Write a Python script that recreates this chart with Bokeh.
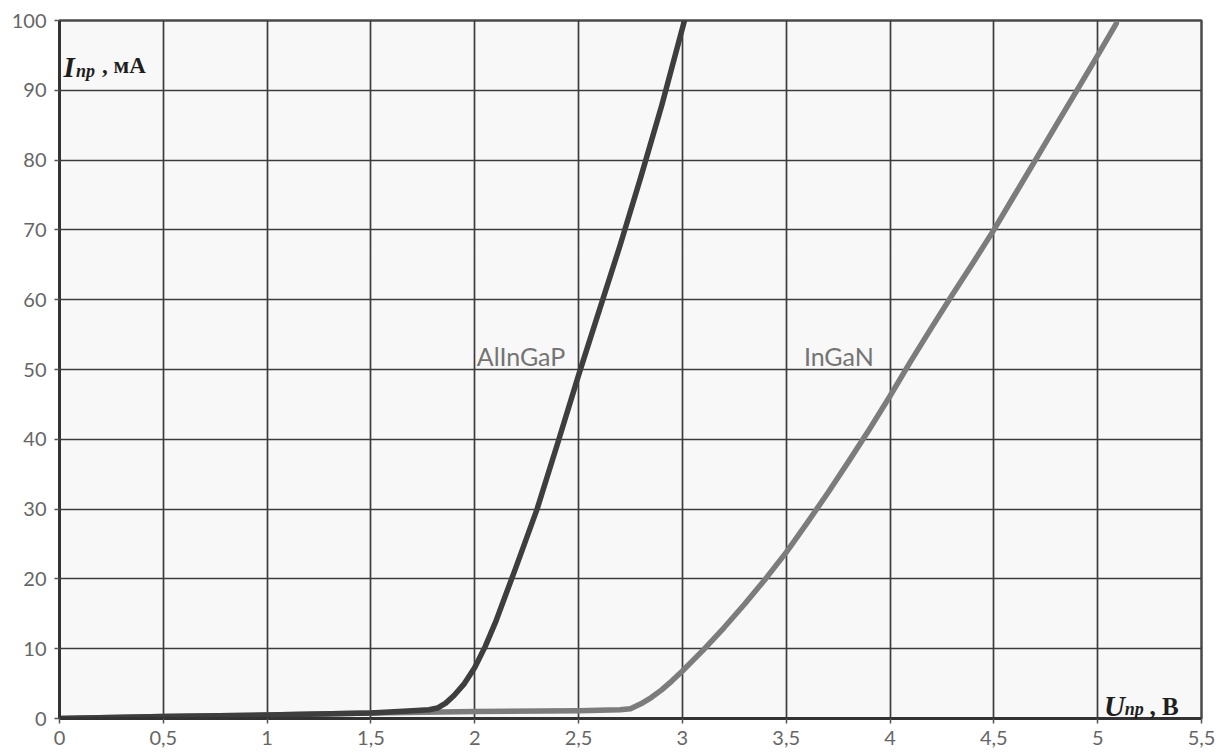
from bokeh.plotting import figure
from bokeh.models import FixedTicker, Range1d, Label
from bokeh.embed import file_html
from bokeh.resources import INLINE

# ---- data ----
alingap_u = [0.0, 0.5, 1.0, 1.5, 1.7, 1.78, 1.82, 1.86, 1.9, 1.95, 2.0, 2.05, 2.1, 2.15, 2.2,
             2.3, 2.4, 2.5, 2.6, 2.7, 2.8, 2.9, 3.01]
alingap_i = [0.0, 0.3, 0.5, 0.8, 1.1, 1.25, 1.5, 2.2, 3.3, 5.0, 7.3, 10.3, 13.8, 17.8, 21.8,
             30.0, 39.5, 49.2, 58.5, 67.8, 77.6, 87.8, 100.0]

ingan_u = [0.0, 0.5, 1.0, 1.5, 2.0, 2.5, 2.7, 2.75, 2.8, 2.85, 2.9, 2.95, 3.0, 3.1, 3.2, 3.3,
           3.4, 3.5, 3.6, 3.7, 3.8, 3.9, 4.0, 4.1, 4.2, 4.3, 4.4, 4.5, 4.6, 4.7, 4.8, 4.9,
           5.0, 5.09]
ingan_i = [0.0, 0.3, 0.5, 0.8, 1.0, 1.1, 1.25, 1.4, 2.1, 3.0, 4.1, 5.4, 6.8, 9.8, 13.0, 16.4,
           20.0, 23.8, 28.0, 32.3, 36.8, 41.4, 46.2, 51.2, 56.0, 60.7, 65.3, 70.0, 75.0, 80.0,
           85.0, 90.0, 95.0, 99.6]

x_ticks = [0, 0.5, 1, 1.5, 2, 2.5, 3, 3.5, 4, 4.5, 5, 5.5]
x_tick_labels = ["0", "0,5", "1", "1,5", "2", "2,5", "3", "3,5", "4", "4,5", "5", "5,5"]
y_ticks = [0, 10, 20, 30, 40, 50, 60, 70, 80, 90, 100]
y_tick_labels = [str(v) for v in y_ticks]

series_names = ["AlInGaP", "InGaN"]

# ---- figure ----
p = figure(width=1232, height=755, output_backend="svg", toolbar_location=None,
           x_range=Range1d(0, 5.5), y_range=Range1d(0, 100),
           min_border_left=59, min_border_right=31, min_border_top=20, min_border_bottom=37)
p.background_fill_color = "#f8f8f8"
p.border_fill_color = "white"
p.outline_line_color = "#4a4a4a"
p.outline_line_width = 2.5

p.xaxis.ticker = FixedTicker(ticks=x_ticks)
p.yaxis.ticker = FixedTicker(ticks=y_ticks)
p.xaxis.major_label_overrides = {t: l for t, l in zip(x_ticks, x_tick_labels)}
p.yaxis.major_label_overrides = {t: l for t, l in zip(y_ticks, y_tick_labels)}

for ax in (p.xaxis, p.yaxis):
    ax.axis_line_color = "#333333"
    ax.axis_line_width = 3
    ax.major_tick_line_color = "#555555"
    ax.major_tick_line_width = 1.5
    ax.major_tick_out = 5
    ax.major_tick_in = 0
    ax.minor_tick_line_color = None
    ax.major_label_text_font = "Lato"
    ax.major_label_text_font_size = "20px"
    ax.major_label_text_color = "#666666"
p.xaxis.major_label_standoff = 7
p.yaxis.major_label_standoff = 8

p.xgrid.ticker = FixedTicker(ticks=x_ticks)
p.ygrid.ticker = FixedTicker(ticks=y_ticks)
p.grid.grid_line_color = "#3c3c3c"
p.grid.grid_line_width = 1.7
p.grid.grid_line_alpha = 1.0

# ---- curves ----
p.line(ingan_u, ingan_i, line_color="#7c7c7c", line_width=5.5, line_cap="round", line_join="round")
p.line(alingap_u, alingap_i, line_color="#3e3e3e", line_width=5.5, line_cap="round", line_join="round")

# ---- curve labels ----
p.add_layout(Label(x=2.01, y=51.9, text=series_names[0], text_font="Lato", text_font_size="25px",
                   text_color="#747474", text_baseline="alphabetic"))
p.add_layout(Label(x=3.585, y=51.9, text=series_names[1], text_font="Lato", text_font_size="25px",
                   text_color="#747474", text_baseline="alphabetic"))

# ---- axis titles ----
serif = "Liberation Serif"
ink = "#1e1e1e"
p.add_layout(Label(x=0.019, y=93.4, text="I", text_font=serif, text_font_style="bold italic",
                   text_font_size="29px", text_color=ink, text_baseline="alphabetic"))
p.add_layout(Label(x=0.08, y=92.8, text="пр", text_font=serif, text_font_style="bold italic",
                   text_font_size="18px", text_color=ink, text_baseline="alphabetic"))
p.add_layout(Label(x=0.205, y=93.55, text=", мА", text_font=serif, text_font_style="bold",
                   text_font_size="23px", text_color=ink, text_baseline="alphabetic"))

p.add_layout(Label(x=5.03, y=1.72, text="U", text_font=serif, text_font_style="bold italic",
                   text_font_size="29px", text_color=ink, text_baseline="alphabetic"))
p.add_layout(Label(x=5.13, y=1.43, text="пр", text_font=serif, text_font_style="bold italic",
                   text_font_size="18px", text_color=ink, text_baseline="alphabetic"))
p.add_layout(Label(x=5.25, y=1.72, text=", В", text_font=serif, text_font_style="bold",
                   text_font_size="25px", text_color=ink, text_baseline="alphabetic"))

open("out.html", "w").write(file_html(p, INLINE))
